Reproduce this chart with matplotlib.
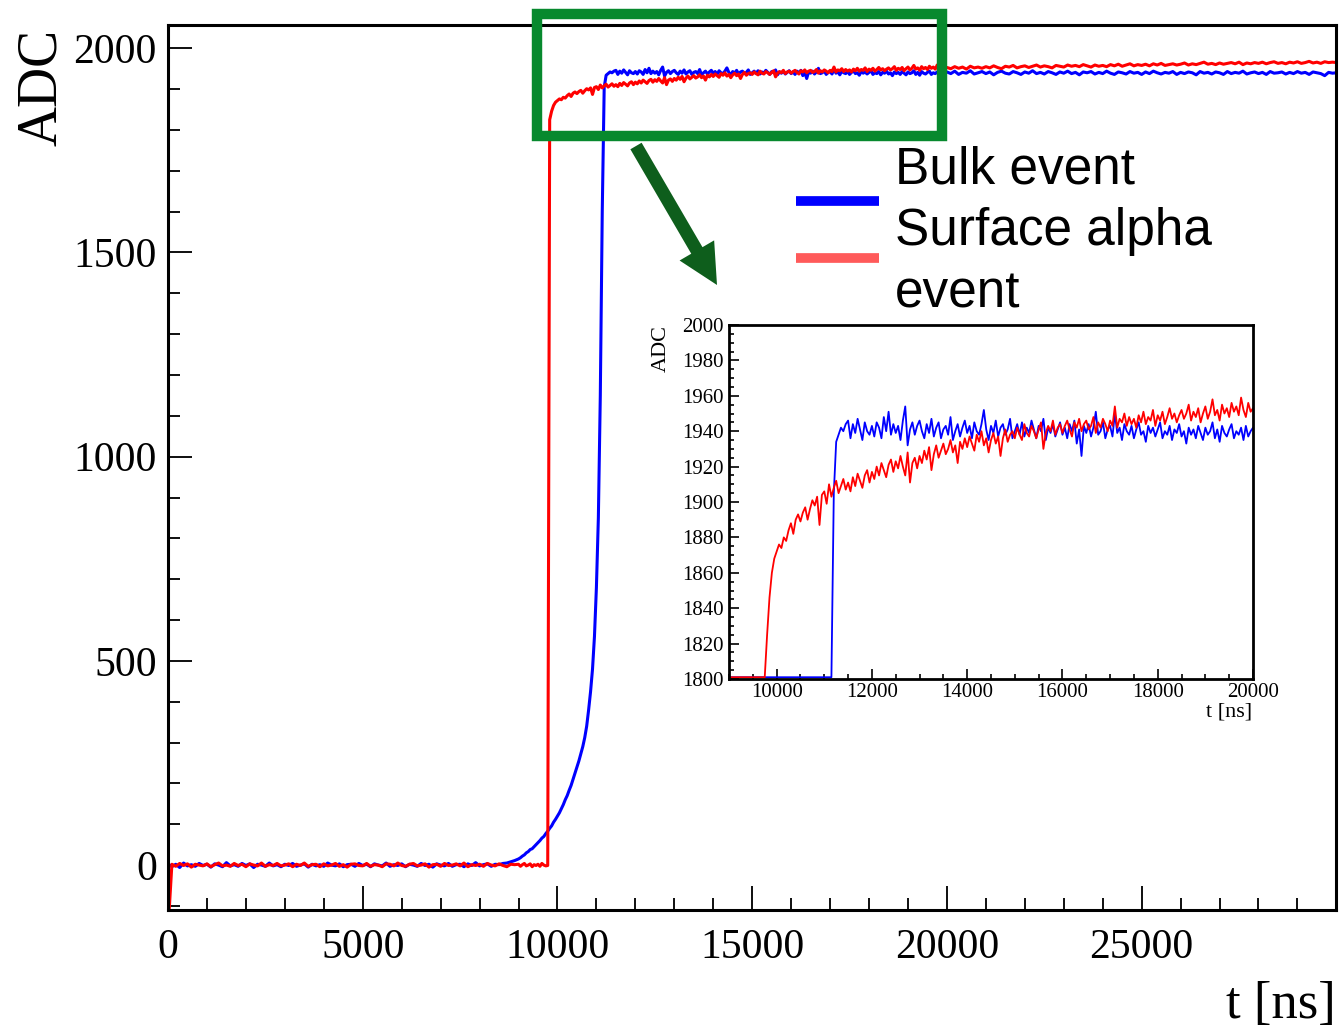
# Bulk vs surface-alpha pulse shapes, ROOT-like style
import numpy as np
import matplotlib
matplotlib.use("Agg")
import matplotlib.pyplot as plt
from matplotlib.ticker import MultipleLocator
from matplotlib.patches import Rectangle, FancyArrow

plt.rcParams['font.family'] = ['Liberation Serif', 'DejaVu Serif']

# sampling times [ns]: coarse on the baseline / tail, finer around the rise
t_lo = np.arange(0, 9000, 100)
t_mid = np.arange(9000, 20000, 50)
t_hi = np.arange(20000, 30001, 100)

# bulk event (blue)
bulk_lo = [3, -4, 2, -6, 5, -2, 1, -3, 4, -1,
           2, -5, 3, 0, -4, 6, -2, 1, -3, 4,
           -1, 3, -6, 2, 0, -3, 5, -2, 1, -4,
           2, -1, 4, -3, 0, 3, -5, 2, -2, 1,
           -3, 5, 0, -2, 3, -4, 1, 2, -3, 4,
           -1, 2, -4, 3, 0, -2, 5, -3, 1, -1,
           3, -4, 2, 0, -3, 4, -1, 2, -5, 3,
           0, -2, 4, -3, 1, 2, -4, 3, -1, 6,
           -2, 1, 3, -3, 2, 1, 4, 5, 8, 11]
bulk_mid = [15, 18, 22, 25, 30, 33, 38, 40, 45, 50,
            55, 60, 66, 70, 77, 83, 90, 96, 105, 112,
            120, 128, 138, 148, 160, 170, 183, 195, 210, 225,
            240, 255, 272, 290, 312, 340, 380, 425, 480, 560,
            680, 850, 1150, 1600, 1905, 1934, 1938, 1942, 1940, 1944,
            1946, 1936, 1944, 1939, 1947, 1941, 1935, 1945, 1940, 1938,
            1943, 1937, 1945, 1942, 1936, 1948, 1940, 1951, 1938, 1944,
            1939, 1943, 1935, 1946, 1954, 1932, 1941, 1945, 1938, 1943,
            1946, 1940, 1936, 1944, 1939, 1947, 1937, 1942, 1945, 1936,
            1941, 1943, 1938, 1948, 1935, 1940, 1944, 1937, 1942, 1946,
            1939, 1943, 1936, 1945, 1940, 1938, 1944, 1952, 1941, 1935,
            1943, 1939, 1946, 1937, 1942, 1944, 1938, 1941, 1947, 1936,
            1940, 1944, 1938, 1945, 1937, 1942, 1939, 1946, 1941, 1936,
            1943, 1940, 1947, 1935, 1942, 1939, 1944, 1937, 1941, 1945,
            1938, 1942, 1936, 1944, 1940, 1946, 1933, 1941, 1926, 1943,
            1939, 1944, 1937, 1942, 1951, 1938, 1940, 1945, 1936, 1941,
            1943, 1937, 1950, 1939, 1942, 1935, 1944, 1940, 1938, 1943,
            1936, 1941, 1945, 1938, 1940, 1934, 1943, 1939, 1942, 1937,
            1941, 1945, 1936, 1940, 1938, 1943, 1935, 1941, 1939, 1944,
            1937, 1940, 1933, 1942, 1938, 1941, 1936, 1943, 1939, 1935,
            1942, 1938, 1940, 1945, 1936, 1941, 1934, 1943, 1939, 1937,
            1941, 1944, 1936, 1940, 1938, 1942, 1935, 1943, 1937, 1940]
bulk_hi = [1942, 1938, 1944, 1936, 1941, 1939, 1945, 1937, 1940, 1943,
           1938, 1942, 1935, 1941, 1944, 1939, 1937, 1943, 1940, 1936,
           1942, 1939, 1945, 1938, 1941, 1937, 1943, 1940, 1936, 1942,
           1939, 1944, 1938, 1941, 1935, 1942, 1940, 1943, 1937, 1941,
           1938, 1944, 1939, 1936, 1942, 1940, 1937, 1943, 1939, 1941,
           1936, 1942, 1938, 1944, 1940, 1937, 1941, 1939, 1943, 1936,
           1941, 1938, 1942, 1940, 1935, 1943, 1939, 1941, 1937, 1942,
           1940, 1936, 1943, 1938, 1941, 1939, 1944, 1937, 1940, 1942,
           1938, 1941, 1936, 1943, 1939, 1940, 1942, 1937, 1941, 1938,
           1943, 1939, 1941, 1936, 1942, 1940, 1938, 1933, 1941, 1939,
           1940]

# surface alpha event (red)
surf_lo = [-160, 2, -3, 4, -1, 3, -5, 2, 0, -2,
           3, -4, 1, 5, -2, 0, -3, 4, -1, 2,
           -4, 3, 0, -2, 5, -3, 1, -1, 4, -2,
           0, 3, -4, 2, -1, 5, -3, 1, 2, -4,
           3, -2, 0, 4, -3, 1, -5, 2, 3, -1,
           -2, 4, -3, 1, 0, -4, 3, 2, -2, 5,
           -1, -3, 2, 4, -2, 0, 3, -5, 1, 2,
           -3, 4, -1, 0, 3, -2, 5, -4, 1, -1,
           2, -3, 4, 0, -2, 3, -1, -4, 2, 1]
surf_mid = [2, -3, 1, 4, -2, 0, 3, -4, 1, -1,
            2, -3, 4, 0, -2, -1, 1825, 1846, 1860, 1868,
            1872, 1876, 1874, 1880, 1878, 1884, 1888, 1882, 1890, 1893,
            1889, 1894, 1897, 1890, 1896, 1901, 1898, 1903, 1887, 1904,
            1906, 1899, 1910, 1903, 1908, 1912, 1905, 1909, 1913, 1907,
            1911, 1906, 1914, 1909, 1916, 1912, 1908, 1915, 1918, 1911,
            1917, 1913, 1920, 1915, 1922, 1918, 1914, 1921, 1924, 1917,
            1923, 1919, 1926, 1920, 1915, 1928, 1911, 1922, 1925, 1919,
            1926, 1922, 1929, 1924, 1931, 1918, 1927, 1932, 1925, 1929,
            1933, 1927, 1930, 1935, 1928, 1932, 1922, 1934, 1930, 1936,
            1931, 1937, 1933, 1929, 1938, 1934, 1940, 1932, 1936, 1928,
            1935, 1939, 1933, 1937, 1926, 1936, 1941, 1934, 1938, 1940,
            1936, 1942, 1938, 1935, 1944, 1939, 1937, 1943, 1940, 1936,
            1941, 1945, 1930, 1939, 1943, 1940, 1946, 1938, 1942, 1944,
            1939, 1943, 1946, 1941, 1937, 1945, 1942, 1947, 1940, 1944,
            1946, 1941, 1943, 1948, 1939, 1945, 1942, 1947, 1944, 1940,
            1946, 1943, 1954, 1942, 1947, 1945, 1950, 1943, 1948, 1944,
            1947, 1942, 1949, 1945, 1951, 1944, 1948, 1946, 1952, 1943,
            1949, 1946, 1951, 1944, 1948, 1953, 1947, 1950, 1945, 1949,
            1952, 1947, 1950, 1955, 1946, 1951, 1948, 1953, 1945, 1950,
            1954, 1947, 1951, 1958, 1949, 1952, 1946, 1955, 1950, 1953,
            1948, 1956, 1951, 1954, 1949, 1959, 1952, 1948, 1956, 1951]
surf_hi = [1953, 1950, 1955, 1951, 1954, 1949, 1956, 1952, 1954, 1951,
           1955, 1952, 1957, 1953, 1950, 1956, 1954, 1958, 1952, 1955,
           1957, 1953, 1956, 1959, 1954, 1957, 1955, 1952, 1958, 1956,
           1954, 1959, 1956, 1958, 1955, 1960, 1957, 1954, 1959, 1956,
           1958, 1955, 1960, 1957, 1961, 1956, 1959, 1962, 1957, 1960,
           1958, 1961, 1957, 1962, 1959, 1963, 1958, 1960, 1962, 1959,
           1961, 1964, 1959, 1962, 1960, 1963, 1966, 1961, 1963, 1960,
           1964, 1961, 1963, 1965, 1962, 1966, 1960, 1964, 1962, 1965,
           1963, 1966, 1962, 1965, 1967, 1963, 1965, 1962, 1966, 1964,
           1967, 1963, 1965, 1968, 1964, 1966, 1963, 1967, 1965, 1966,
           1965]

t = np.concatenate([t_lo, t_mid, t_hi])
bulk = np.array(bulk_lo + bulk_mid + bulk_hi, dtype=float)
surf = np.array(surf_lo + surf_mid + surf_hi, dtype=float)

W, H = 1343, 1031
fig = plt.figure(figsize=(W / 100, H / 100), dpi=100)


def root_axis(ax, lw, majlen, minlen, labsize, pad):
    for s in ax.spines.values():
        s.set_linewidth(lw)
    ax.tick_params(which='both', direction='in', top=False, right=False,
                   width=lw * 0.6, labelsize=labsize, pad=pad)
    ax.tick_params(which='major', length=majlen)
    ax.tick_params(which='minor', length=minlen)


# main pad
ax = fig.add_axes([168 / W, 1 - 910 / H, (1336 - 168) / W, (910 - 25) / H])
ax.plot(t, bulk, color='#0000FF', lw=2.2)
ax.plot(t, surf, color='#FF0000', lw=2.2)
ax.set_xlim(0, 29990)
ax.set_ylim(-110, 2057)
ax.xaxis.set_major_locator(MultipleLocator(5000))
ax.xaxis.set_minor_locator(MultipleLocator(1000))
ax.yaxis.set_major_locator(MultipleLocator(500))
ax.yaxis.set_minor_locator(MultipleLocator(100))
root_axis(ax, 2.2, 17, 8.5, 30, 8)
ax.tick_params(axis='x', pad=13)
fig.text(42 / W, 1 - 87 / H, 'ADC', rotation=90, fontsize=40,
         ha='center', va='center')
fig.text(1336 / W, 1 - 1005 / H, 't [ns]', fontsize=38,
         ha='right', va='center')

# inset pad (values below the range sit on the frame, ROOT-like)
ins = fig.add_axes([729 / W, 1 - 679 / H, (1253 - 729) / W, (679 - 325) / H])
ins.plot(t, np.clip(bulk, 1801, 2000), color='#0000FF', lw=1.3)
ins.plot(t, np.clip(surf, 1801, 2000), color='#FF0000', lw=1.3)
ins.set_xlim(9000, 20000)
ins.set_ylim(1800, 2000)
ins.xaxis.set_major_locator(MultipleLocator(2000))
ins.xaxis.set_minor_locator(MultipleLocator(500))
ins.yaxis.set_major_locator(MultipleLocator(20))
ins.yaxis.set_minor_locator(MultipleLocator(5))
root_axis(ins, 2.0, 7, 3.5, 15, 4)
ins.tick_params(axis='x', pad=3)
fig.text(661 / W, 1 - 349 / H, 'ADC', rotation=90, fontsize=16,
         ha='center', va='center')
fig.text(1252 / W, 1 - 712 / H, 't [ns]', fontsize=16,
         ha='right', va='center')

# annotation overlay in pixel coordinates
ov = fig.add_axes([0, 0, 1, 1], zorder=10)
ov.set_xlim(0, W)
ov.set_ylim(H, 0)
ov.axis('off')
ov.patch.set_alpha(0)
ov.add_patch(Rectangle((537, 14), 405, 122, fill=False,
                       edgecolor='#07892E', lw=7.5))
ov.add_patch(FancyArrow(636, 146, 81, 139, width=13, head_width=40,
                        head_length=40, length_includes_head=True,
                        color='#0E5E1C', lw=0))

# hand-placed legend
ov.plot([796, 879], [201, 201], color='#0000FF', lw=7, solid_capstyle='butt')
ov.plot([796, 879], [258, 258], color='#FF5A5A', lw=7, solid_capstyle='butt')
leg_font = dict(family=['Liberation Sans', 'DejaVu Sans'], fontsize=37,
                va='baseline', ha='left')
ov.text(895, 183, 'Bulk event', **leg_font)
ov.text(895, 245, 'Surface alpha', **leg_font)
ov.text(895, 307, 'event', **leg_font)

fig.savefig('out.png', dpi=100)
